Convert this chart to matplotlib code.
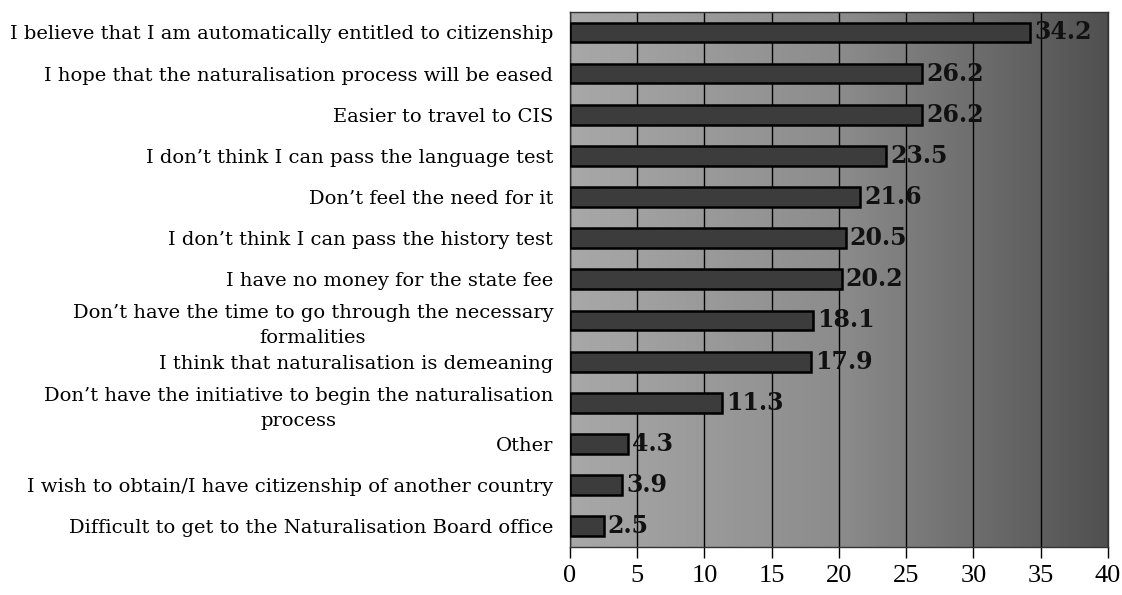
import numpy as np
import matplotlib.pyplot as plt
from matplotlib.colors import LinearSegmentedColormap

categories = [
    "I believe that I am automatically entitled to citizenship",
    "I hope that the naturalisation process will be eased",
    "Easier to travel to CIS",
    "I don\u2019t think I can pass the language test",
    "Don\u2019t feel the need for it",
    "I don\u2019t think I can pass the history test",
    "I have no money for the state fee",
    "Don\u2019t have the time to go through the necessary\nformalities",
    "I think that naturalisation is demeaning",
    "Don\u2019t have the initiative to begin the naturalisation\nprocess",
    "Other",
    "I wish to obtain/I have citizenship of another country",
    "Difficult to get to the Naturalisation Board office",
]
values = [34.2, 26.2, 26.2, 23.5, 21.6, 20.5, 20.2, 18.1, 17.9, 11.3, 4.3, 3.9, 2.5]
xticks = [0, 5, 10, 15, 20, 25, 30, 35, 40]

plt.rcParams['font.family'] = ['Liberation Serif', 'DejaVu Serif']

fig = plt.figure(figsize=(11.22, 5.95), dpi=100)
ax = fig.add_axes([0.508, 0.081, 0.4795, 0.899])

# grey scanned-looking background, lighter on the left
cmap = LinearSegmentedColormap.from_list('bg', ['#a8a8a8', '#8c8c8c', '#505050'])
ax.imshow(np.linspace(0, 1, 256)[None, :], cmap=cmap, aspect='auto',
          extent=[0, 40, 12.5, -0.5], zorder=0)

y = np.arange(len(categories))
ax.barh(y, values, height=0.48, color='#3c3c3c', edgecolor='black', linewidth=1.8, zorder=3)

for yi, v in zip(y, values):
    ax.text(v + 0.3, yi, f'{v}', va='center', ha='left', fontsize=17,
            fontweight='bold', family='DejaVu Serif', color='#111111', zorder=4)

ax.set_xlim(0, 40)
ax.set_ylim(12.5, -0.5)
ax.set_xticks(xticks)
ax.set_xticklabels([str(t) for t in xticks], fontsize=19)
ax.set_yticks(y)
ax.set_yticklabels(categories, fontsize=14, family='DejaVu Serif',
                   multialignment='center', linespacing=1.5)
ax.tick_params(axis='y', length=0, pad=12)
ax.tick_params(axis='x', length=8, width=1, direction='out', pad=5)
ax.xaxis.grid(True, color='black', linewidth=1, zorder=1)
ax.set_axisbelow(True)
for sp in ax.spines.values():
    sp.set_color('#333333')
    sp.set_linewidth(1)

fig.savefig('out.png', dpi=100)
